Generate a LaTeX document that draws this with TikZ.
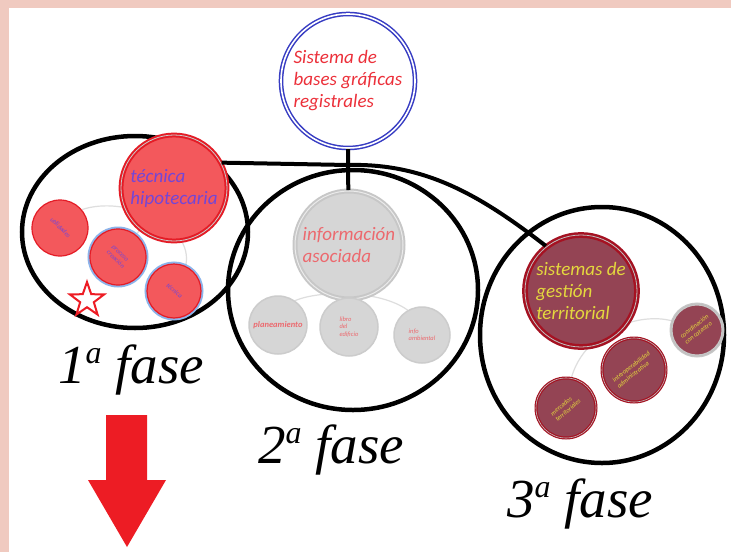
\documentclass[tikz,border=0pt]{standalone}
\usepackage{fontspec}
\usepackage{xcolor}
\usetikzlibrary{shapes.geometric, arrows.meta, positioning, calc, backgrounds}
\newfontfamily\califont{Carlito}
\newfontfamily\fasefont{Liberation Serif}
\definecolor{bgpink}{RGB}{240,202,192}
\definecolor{hipred}{RGB}{243,88,92}
\definecolor{hipline}{RGB}{228,28,38}
\definecolor{hiptext}{RGB}{115,70,215}
\definecolor{ringblue}{RGB}{140,180,235}
\definecolor{rootblue}{RGB}{55,60,195}
\definecolor{roottext}{RGB}{236,48,58}
\definecolor{infogray}{RGB}{214,214,214}
\definecolor{infotext}{RGB}{236,105,110}
\definecolor{gestred}{RGB}{148,68,84}
\definecolor{gestline}{RGB}{165,18,34}
\definecolor{gesttext}{RGB}{228,216,62}
\definecolor{arrowred}{RGB}{237,28,36}
\newcommand{\tilted}[2]{\rotatebox{#1}{\begin{tabular}{@{}l@{}}#2\end{tabular}}}
\newcommand{\ordsup}{\raisebox{0.36em}{\fontsize{32}{32}\selectfont a}}

\begin{document}
\begin{tikzpicture}[
    x=1pt, y=-1pt,
    bigtext/.style={font=\califont\itshape\fontsize{19}{22}\selectfont, align=left},
    smalltext/.style={font=\califont\itshape\fontsize{6.5}{7.5}\selectfont},
    phase/.style={ellipse, draw=black, line width=4.5pt, inner sep=0pt},
    phaselabel/.style={font=\fasefont\itshape\fontsize{55}{55}\selectfont, anchor=base},
    link/.style={draw=black, line width=4pt},
    thread/.style={draw=black!13, line width=1.2pt},
    root/.style={circle, draw=rootblue, double=white, double distance=1.6pt, line width=1.5pt, fill=white, text=roottext, minimum size=134pt, inner sep=1pt, bigtext},
    hip/.style={circle, fill=hipred, draw=hipline, double=black!20, double distance=0.8pt, line width=2pt, text=hiptext, inner sep=1pt, bigtext},
    hipsmall/.style={circle, fill=hipred, draw=hipline, line width=1.2pt, text=hiptext, inner sep=0pt, smalltext},
    ringed/.style={preaction={draw=ringblue, line width=5pt}},
    info/.style={circle, fill=infogray, draw=black!22, double=black!8, double distance=1pt, line width=2pt, text=infotext, inner sep=1pt, bigtext},
    infosmall/.style={circle, fill=infogray, draw=black!20, line width=1.5pt, text=infotext, inner sep=0pt, smalltext},
    gest/.style={circle, fill=gestred, draw=gestline, double=black!25, double distance=0.8pt, line width=2.5pt, text=gesttext, inner sep=1pt, bigtext},
    gestsmall/.style={circle, fill=gestred, draw=gestline, double=black!25, double distance=0.6pt, line width=1.2pt, text=gesttext, inner sep=0pt, smalltext}
]
\useasboundingbox (0,0) rectangle (731,552);
\begin{scope}[on background layer]
\fill[bgpink] (0,0) rectangle (731,552);
\fill[white] (9,8) rectangle (731,552);
\end{scope}

% Phases
\node[phase, minimum width=226pt, minimum height=192pt] (fase1) at (135,232) {};
\node[phase, minimum width=250pt, minimum height=240pt] (fase2) at (353,290) {};
\node[phase, minimum width=244pt, minimum height=256pt] (fase3) at (602,335) {};

% Root
\node[root] (root) at (348,81) {Sistema de\\bases gráficas\\registrales};
\coordinate (hub) at (348,165);

% 1st phase
\node[hip, minimum size=106pt] (tec_hip) at (174,188) {técnica\\hipotecaria};
\node[hipsmall, minimum size=56pt] (utilidades) at (60,228) {\tilted{-45}{utilidades}};
\node[hipsmall, ringed, minimum size=56pt] (proceso) at (118,257) {\tilted{-45}{proceso\\creación}};
\node[hipsmall, ringed, minimum size=54pt] (tecnico) at (174,291) {\tilted{-40}{técnica}};
\node[star, star points=5, star point ratio=2.5, draw=arrowred, line width=2pt, fill=white, minimum size=36pt, inner sep=0pt] (estrella) at (87,300) {};

% 2nd phase
\node[info, minimum size=108pt] (info_asoc) at (349,245) {información\\asociada};
\node[infosmall, minimum size=58pt, font=\califont\bfseries\itshape\fontsize{8.5}{9}\selectfont] (planea) at (278,325) {planeamiento};
\node[infosmall, minimum size=58pt, align=left] (libro) at (349,327) {libro\\del\\edificio};
\node[infosmall, minimum size=56pt, align=left] (ambiental) at (422,335) {info\\ambiental};

% 3rd phase
\node[gestsmall, draw=black!22, minimum size=52pt] (coord) at (697,330) {\tilted{38}{coordinación\\con catastro}};
\node[gestsmall, minimum size=64pt] (interop) at (634,370) {\tilted{38}{interoperabilidad\\administrativa}};
\node[gestsmall, minimum size=60pt] (mercados) at (566,408) {\tilted{40}{mercados\\territoriales}};
\node[gest, minimum size=112pt] (sis_gest) at (581,291) {sistemas de\\gestión\\territorial};

% Labels
\node[phaselabel] (lab1) at (131,383) {1\ordsup{} fase};
\node[phaselabel] (lab2) at (331,463) {2\ordsup{} fase};
\node[phaselabel] (lab3) at (580,517) {3\ordsup{} fase};

% Arrow
\fill[arrowred] (106,415) -- (147,415) -- (147,480) -- (166,480) -- (127,547) -- (88,480) -- (106,480) -- cycle;

% Connectors
\begin{scope}[on background layer]
\draw[thread] (tec_hip) -- (proceso);
\draw[thread] (utilidades.40) .. controls (125,195) and (195,225) .. (tecnico.65);
\draw[thread] (info_asoc) -- (libro);
\draw[thread] (planea.55) .. controls (320,290) and (380,290) .. (ambiental.120);
\draw[thread] (mercados.80) .. controls (585,330) and (640,312) .. (coord.160);
\end{scope}
\draw[link] (root) -- (hub) -- (info_asoc);
\draw[link] (hub) -- (tec_hip.28);
\draw[link] (hub) .. controls (425,163) and (480,195) .. (sis_gest.128);

\end{tikzpicture}
\end{document}
